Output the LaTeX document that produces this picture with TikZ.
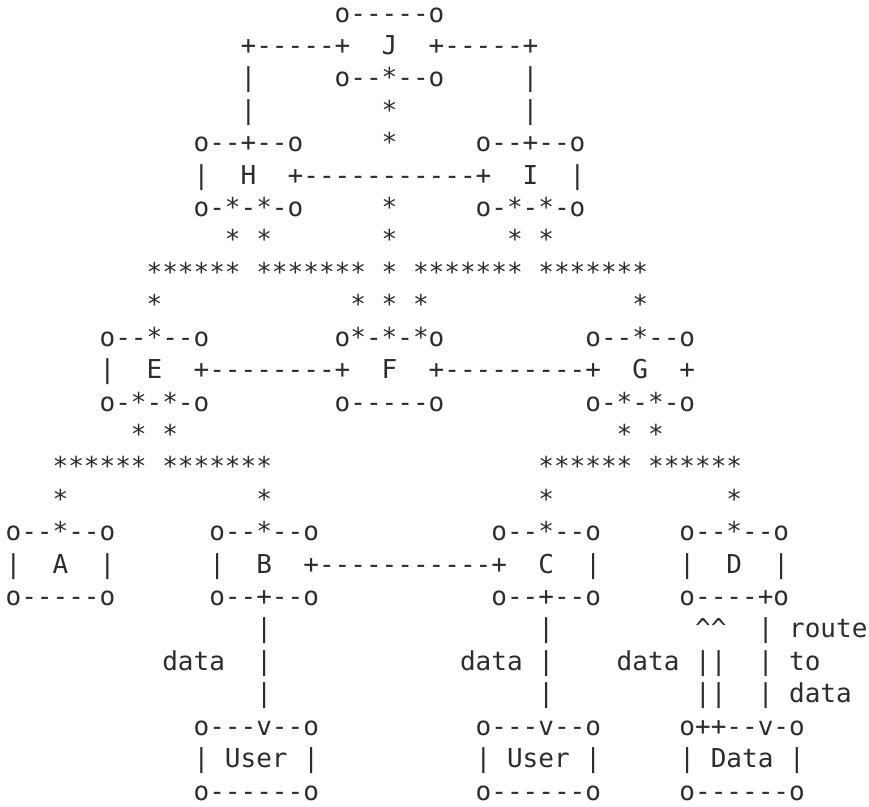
\documentclass[tikz,border=0pt]{standalone}
\usepackage{fontspec}
\setmonofont{DejaVu Sans Mono}
\definecolor{inkgray}{RGB}{45,45,45}
\tikzset{tok/.style={inner sep=0pt, outer sep=0pt, anchor=base west, text=inkgray,
  font=\ttfamily\fontsize{26.03pt}{32pt}\selectfont}}
\newcommand\asciiseg[3]{\node[tok] (r#1c#2) at ({5.6pt+15.67pt*#2},{-22pt-32.42pt*(#1-1)}) {#3};}
\newcommand\crt{\textasciicircum}
\begin{document}
\begin{tikzpicture}
\useasboundingbox[fill=white] (0pt,0pt) rectangle (869pt,-806pt);
% row 1-4: J
\asciiseg{1}{21}{o-----o}
\asciiseg{2}{15}{+-----+}\asciiseg{2}{24}{J}\asciiseg{2}{27}{+-----+}
\asciiseg{3}{15}{|}\asciiseg{3}{21}{o--*--o}\asciiseg{3}{33}{|}
\asciiseg{4}{15}{|}\asciiseg{4}{24}{*}\asciiseg{4}{33}{|}
% rows 5-8: H, I
\asciiseg{5}{12}{o--+--o}\asciiseg{5}{24}{*}\asciiseg{5}{30}{o--+--o}
\asciiseg{6}{12}{|}\asciiseg{6}{15}{H}\asciiseg{6}{18}{+-----------+}\asciiseg{6}{33}{I}\asciiseg{6}{36}{|}
\asciiseg{7}{12}{o-*-*-o}\asciiseg{7}{24}{*}\asciiseg{7}{30}{o-*-*-o}
\asciiseg{8}{14}{*}\asciiseg{8}{16}{*}\asciiseg{8}{24}{*}\asciiseg{8}{32}{*}\asciiseg{8}{34}{*}
% rows 9-10
\asciiseg{9}{9}{******}\asciiseg{9}{16}{*******}\asciiseg{9}{24}{*}\asciiseg{9}{26}{*******}\asciiseg{9}{34}{*******}
\asciiseg{10}{9}{*}\asciiseg{10}{22}{*}\asciiseg{10}{24}{*}\asciiseg{10}{26}{*}\asciiseg{10}{40}{*}
% rows 11-14: E, F, G
\asciiseg{11}{6}{o--*--o}\asciiseg{11}{21}{o*-*-*o}\asciiseg{11}{37}{o--*--o}
\asciiseg{12}{6}{|}\asciiseg{12}{9}{E}\asciiseg{12}{12}{+--------+}\asciiseg{12}{24}{F}\asciiseg{12}{27}{+---------+}\asciiseg{12}{40}{G}\asciiseg{12}{43}{+}
\asciiseg{13}{6}{o-*-*-o}\asciiseg{13}{21}{o-----o}\asciiseg{13}{37}{o-*-*-o}
\asciiseg{14}{8}{*}\asciiseg{14}{10}{*}\asciiseg{14}{39}{*}\asciiseg{14}{41}{*}
% rows 15-16
\asciiseg{15}{3}{******}\asciiseg{15}{10}{*******}\asciiseg{15}{34}{******}\asciiseg{15}{41}{******}
\asciiseg{16}{3}{*}\asciiseg{16}{16}{*}\asciiseg{16}{34}{*}\asciiseg{16}{46}{*}
% rows 17-19: A, B, C, D
\asciiseg{17}{0}{o--*--o}\asciiseg{17}{13}{o--*--o}\asciiseg{17}{31}{o--*--o}\asciiseg{17}{43}{o--*--o}
\asciiseg{18}{0}{|}\asciiseg{18}{3}{A}\asciiseg{18}{6}{|}\asciiseg{18}{13}{|}\asciiseg{18}{16}{B}\asciiseg{18}{19}{+-----------+}\asciiseg{18}{34}{C}\asciiseg{18}{37}{|}\asciiseg{18}{43}{|}\asciiseg{18}{46}{D}\asciiseg{18}{49}{|}
\asciiseg{19}{0}{o-----o}\asciiseg{19}{13}{o--+--o}\asciiseg{19}{31}{o--+--o}\asciiseg{19}{43}{o----+o}
% rows 20-22: data links
\asciiseg{20}{16}{|}\asciiseg{20}{34}{|}\asciiseg{20}{44}{\crt\crt}\asciiseg{20}{48}{|}\asciiseg{20}{50}{route}
\asciiseg{21}{10}{data}\asciiseg{21}{16}{|}\asciiseg{21}{29}{data}\asciiseg{21}{34}{|}\asciiseg{21}{39}{data}\asciiseg{21}{44}{||}\asciiseg{21}{48}{|}\asciiseg{21}{50}{to}
\asciiseg{22}{16}{|}\asciiseg{22}{34}{|}\asciiseg{22}{44}{||}\asciiseg{22}{48}{|}\asciiseg{22}{50}{data}
% rows 23-25: User, User, Data
\asciiseg{23}{12}{o---v--o}\asciiseg{23}{30}{o---v--o}\asciiseg{23}{43}{o++--v-o}
\asciiseg{24}{12}{|}\asciiseg{24}{14}{User}\asciiseg{24}{19}{|}\asciiseg{24}{30}{|}\asciiseg{24}{32}{User}\asciiseg{24}{37}{|}\asciiseg{24}{43}{|}\asciiseg{24}{45}{Data}\asciiseg{24}{50}{|}
\asciiseg{25}{12}{o------o}\asciiseg{25}{30}{o------o}\asciiseg{25}{43}{o------o}
\end{tikzpicture}
\end{document}
